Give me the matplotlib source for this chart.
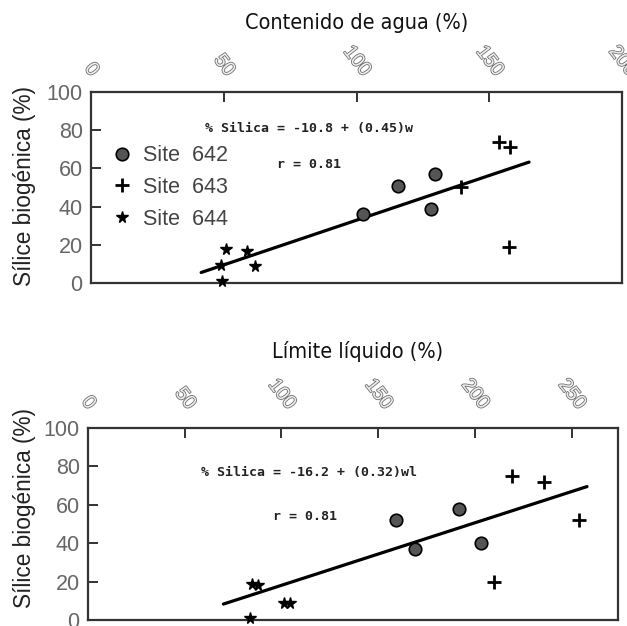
import matplotlib
matplotlib.use('Agg')
import matplotlib.pyplot as plt
import matplotlib.patheffects as pe

sans = ['Liberation Sans', 'DejaVu Sans']
mono = ['DejaVu Sans Mono']

# top panel: water content (%) vs biogenic silica (%)
w_642_x = [102.5, 115.5, 129.5, 128.0]
w_642_y = [36, 51, 57, 39]
w_643_x = [139.5, 153.5, 158.0, 157.5]
w_643_y = [50, 74, 71, 19]
w_644_x = [50.8, 58.6, 61.7, 49.0, 49.3]
w_644_y = [18, 17, 9, 9.5, 1]
w_fit_x = [41.5, 165.0]
w_fit_y = [5.5, 63.3]

# bottom panel: liquid limit (%) vs biogenic silica (%)
ll_642_x = [159, 169, 192, 203]
ll_642_y = [52, 37, 58, 40]
ll_643_x = [219, 236, 254, 210]
ll_643_y = [75, 72, 52, 20]
ll_644_x = [85, 88, 101.5, 104.6, 83.5]
ll_644_y = [19, 18, 9, 9, 1]
ll_fit_x = [70, 258]
ll_fit_y = [8.3, 69.5]

yticks = [0, 20, 40, 60, 80, 100]
w_xticks = [0, 50, 100, 150, 200]
ll_xticks = [0, 50, 100, 150, 200, 250]

fig = plt.figure(figsize=(6.27, 6.26), dpi=100)
ax1 = fig.add_axes([91/627, 1-283/626, 531/627, 191/626])
ax2 = fig.add_axes([88/627, 1-620/626, 530/627, 192/626])

# scanned-looking outlined digits on the top axis
hollow = [pe.withStroke(linewidth=1.2, foreground='#707070')]


def style(ax, xmax, xticks, xpad):
    ax.set_xlim(0, xmax)
    ax.set_ylim(0, 100)
    ax.xaxis.tick_top()
    ax.set_xticks(xticks)
    labs = ax.set_xticklabels([str(t) for t in xticks], rotation=-52, ha='center', va='bottom',
                              family=sans, fontsize=14, color='#eeeeee')
    for t in labs:
        t.set_path_effects(hollow)
    ax.set_yticks(yticks)
    ax.set_yticklabels([str(t) for t in yticks], family=sans, fontsize=15.5, color='#666666')
    ax.tick_params(axis='x', direction='in', length=7, width=1.4, color='#333333',
                   top=True, bottom=False, labeltop=True, labelbottom=False, pad=xpad)
    ax.tick_params(axis='y', direction='in', length=7, width=1.4, color='#333333', pad=6)
    for s in ax.spines.values():
        s.set_color('#333333')
        s.set_linewidth(1.6)


def draw(ax, x1, y1, x2, y2, x3, y3, fx, fy):
    ax.plot(fx, fy, color='black', lw=2.3, solid_capstyle='round', zorder=2)
    ax.plot(x1, y1, 'o', ms=9, mfc='#555555', mec='black', mew=1.2, ls='none',
            label='Site  642', clip_on=False, zorder=3)
    ax.plot(x2, y2, '+', ms=10, mew=2, color='black', ls='none',
            label='Site  643', clip_on=False, zorder=3)
    ax.plot(x3, y3, '*', ms=8.5, color='black', ls='none',
            label='Site  644', clip_on=False, zorder=3)


style(ax1, 200, w_xticks, 9)
draw(ax1, w_642_x, w_642_y, w_643_x, w_643_y, w_644_x, w_644_y, w_fit_x, w_fit_y)
ax1.text(82, 81, '% Silica = -10.8 + (0.45)w', ha='center', va='center',
         family=mono, fontsize=9.5, fontweight='bold', color='#222222')
ax1.text(82, 62, 'r = 0.81', ha='center', va='center',
         family=mono, fontsize=9.5, fontweight='bold', color='#222222')
leg = ax1.legend(loc='center left', bbox_to_anchor=(0.01, 0.5), frameon=False,
                 prop={'family': sans, 'size': 15.5}, labelspacing=0.5,
                 handlelength=1.0, handletextpad=0.45, borderpad=0.2)
for t in leg.get_texts():
    t.set_color('#444444')

style(ax2, 274, ll_xticks, 11)
draw(ax2, ll_642_x, ll_642_y, ll_643_x, ll_643_y, ll_644_x, ll_644_y, ll_fit_x, ll_fit_y)
ax2.text(114, 77, '% Silica = -16.2 + (0.32)wl', ha='center', va='center',
         family=mono, fontsize=9.5, fontweight='bold', color='#222222')
ax2.text(112, 54, 'r = 0.81', ha='center', va='center',
         family=mono, fontsize=9.5, fontweight='bold', color='#222222')

fig.text(357/627, 1-23/626, 'Contenido de agua (%)', ha='center', va='center',
         family='DejaVu Sans', fontstretch='condensed', fontsize=15.5, color='#111111')
fig.text(358/627, 1-352/626, 'Límite líquido (%)', ha='center', va='center',
         family='DejaVu Sans', fontstretch='condensed', fontsize=15.5, color='#111111')
fig.text(25/627, 1-186/626, 'Sílice biogénica (%)', ha='center', va='center', rotation=90,
         family=sans, fontsize=16.3, color='#222222')
fig.text(25/627, 1-508/626, 'Sílice biogénica (%)', ha='center', va='center', rotation=90,
         family=sans, fontsize=16.3, color='#222222')

fig.savefig('out.png', dpi=100)
